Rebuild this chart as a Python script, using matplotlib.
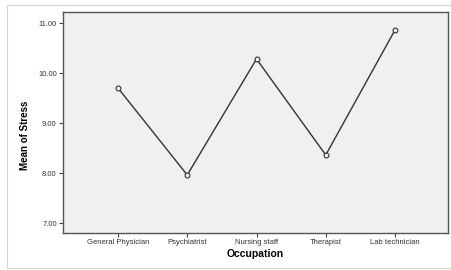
import matplotlib
matplotlib.use("Agg")
import matplotlib.pyplot as plt
from matplotlib.patches import Rectangle

occupations = ["General Physician", "Psychiatrist", "Nursing staff", "Therapist", "Lab technician"]
mean_stress = [9.70, 7.96, 10.28, 8.36, 10.86]
yticks = [7.0, 8.0, 9.0, 10.0, 11.0]

plt.rcParams['font.family'] = ['Liberation Sans', 'DejaVu Sans']

fig = plt.figure(figsize=(4.52, 2.70), dpi=100)
fig.patch.set_facecolor('white')

# light frame around the whole chart
fig.patches.append(Rectangle((7 / 452, 2 / 270), 450 / 452, 263 / 270, transform=fig.transFigure,
                             fill=False, edgecolor='#d4d4d4', linewidth=0.8))

ax = fig.add_axes([63 / 452, 37 / 270, 385 / 452, 221 / 270])
ax.set_facecolor('#f0f0f0')

x = list(range(len(occupations)))
ax.plot(x, mean_stress, color='#333333', linewidth=1.0, marker='o', markersize=3.5,
        markerfacecolor='#f0f0f0', markeredgecolor='#333333', markeredgewidth=0.8)

ax.set_xlim(-0.794, 4.765)
ax.set_ylim(6.80, 11.22)
ax.set_xticks(x)
ax.set_xticklabels(occupations, fontsize=5.5, color='#333333')
ax.set_yticks(yticks)
ax.set_yticklabels(["%.2f" % v for v in yticks], fontsize=5.5, color='#333333')
ax.tick_params(axis='both', length=3, width=0.8, color='#444444', pad=1.5)

for s in ax.spines.values():
    s.set_color('#555555')
    s.set_linewidth(1.0)

ax.set_ylabel("Mean of Stress", fontsize=7, fontweight='bold')
ax.yaxis.set_label_coords(-33 / 385, 0.44)
ax.set_xlabel("Occupation", fontsize=7.5, fontweight='bold', labelpad=2)

fig.savefig("out.png", dpi=100)
